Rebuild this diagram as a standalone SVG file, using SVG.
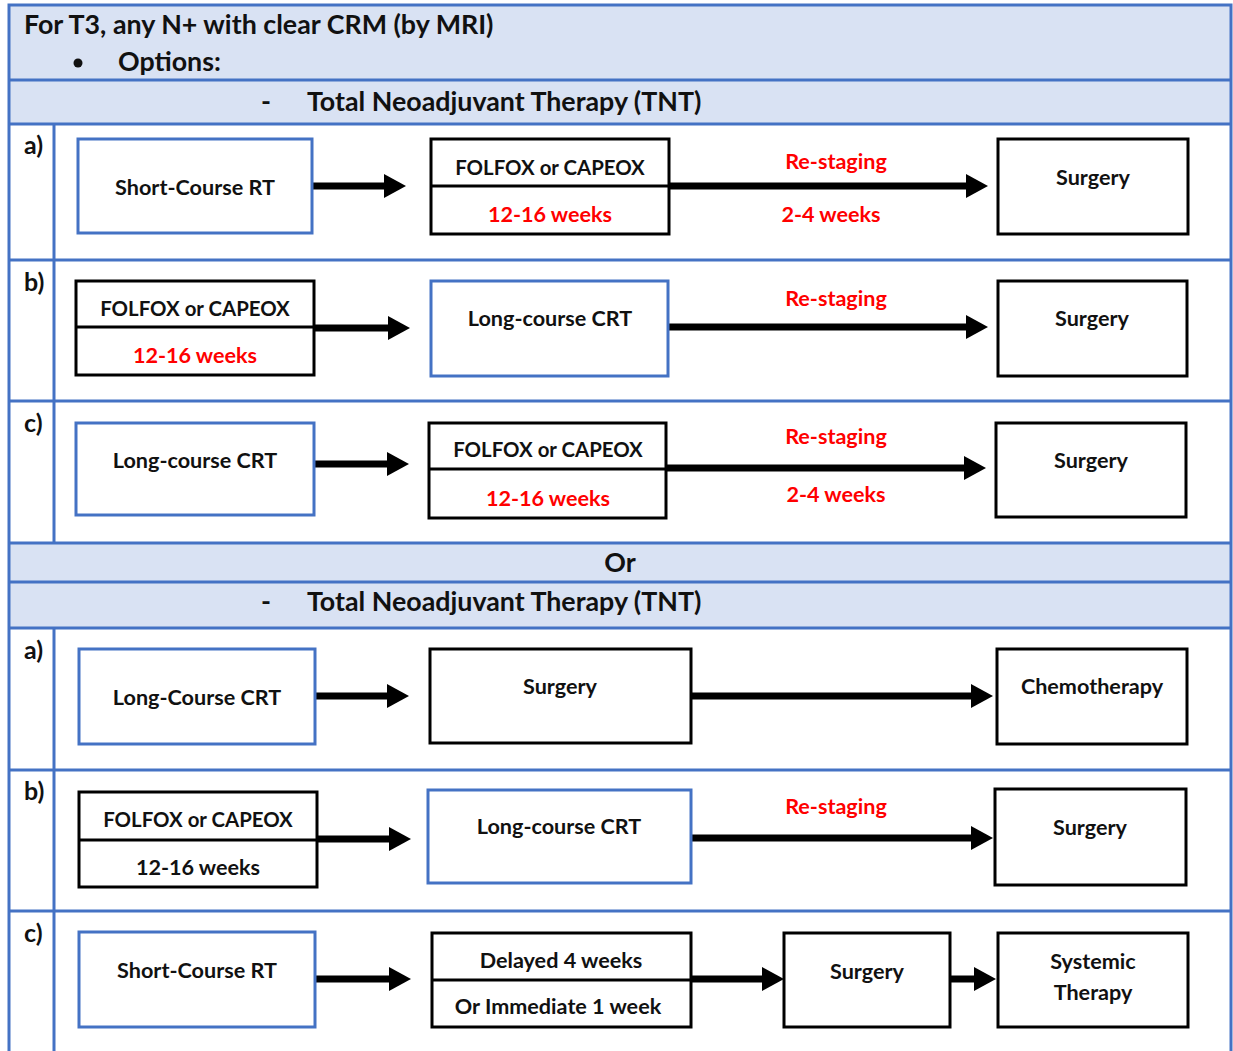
<svg xmlns="http://www.w3.org/2000/svg" width="1233" height="1051" viewBox="0 0 1233 1051">
<defs>
<marker id="ah" viewBox="0 0 22 24" markerWidth="22" markerHeight="24" refX="1" refY="12" orient="auto" markerUnits="userSpaceOnUse"><path d="M0,0 L22,12 L0,24 z" fill="#000"/></marker>
</defs>
<style>
.hdr{fill:#D9E2F3}
.grid{stroke:#4472C4;stroke-width:3;fill:none}
.bb{fill:#fff;stroke:#4472C4;stroke-width:3}
.kb{fill:#fff;stroke:#000;stroke-width:3}
.dv{stroke:#000;stroke-width:3}
.t{font-family:Lato,"Liberation Sans",sans-serif;font-weight:700;font-size:21.6px;fill:#111;text-anchor:middle;dominant-baseline:central}
.f{font-size:20.4px}
.r{fill:#FF0000}
.h{font-family:Lato,"Liberation Sans",sans-serif;font-weight:700;font-size:26.8px;fill:#111}
.lb{font-family:Lato,"Liberation Sans",sans-serif;font-weight:700;font-size:25px;fill:#111}
.ar{stroke:#000;stroke-width:7;marker-end:url(#ah)}
</style>
<rect x="0" y="0" width="1233" height="1051" fill="#fff"/>
<g id="table">
<rect class="hdr" x="9" y="5" width="1222" height="119"/>
<rect class="hdr" x="9" y="543" width="1222" height="85"/>
<rect class="grid" x="9" y="5" width="1222" height="1050"/>
<line class="grid" x1="9" y1="80" x2="1231" y2="80"/>
<line class="grid" x1="9" y1="124" x2="1231" y2="124"/>
<line class="grid" x1="9" y1="260" x2="1231" y2="260"/>
<line class="grid" x1="9" y1="401" x2="1231" y2="401"/>
<line class="grid" x1="9" y1="543" x2="1231" y2="543"/>
<line class="grid" x1="9" y1="582" x2="1231" y2="582"/>
<line class="grid" x1="9" y1="628" x2="1231" y2="628"/>
<line class="grid" x1="9" y1="770" x2="1231" y2="770"/>
<line class="grid" x1="9" y1="911" x2="1231" y2="911"/>
<line class="grid" x1="54" y1="124" x2="54" y2="543"/>
<line class="grid" x1="54" y1="628" x2="54" y2="1055"/>
<text class="h" x="24" y="34">For T3, any N+ with clear CRM (by MRI)</text>
<circle cx="78" cy="63" r="4.5" fill="#111"/>
<text class="h" x="118" y="71">Options:</text>
<text class="h" x="261" y="111">-</text>
<text class="h" x="307" y="111">Total Neoadjuvant Therapy (TNT)</text>
<text class="h" x="620" y="572" text-anchor="middle">Or</text>
<text class="h" x="261" y="611">-</text>
<text class="h" x="307" y="611">Total Neoadjuvant Therapy (TNT)</text>
<text class="lb" x="24" y="154">a)</text>
<text class="lb" x="24" y="291">b)</text>
<text class="lb" x="24" y="432">c)</text>
<text class="lb" x="24" y="659">a)</text>
<text class="lb" x="24" y="800">b)</text>
<text class="lb" x="24" y="942">c)</text>
</g>
<g id="connectors">
<line class="ar" x1="312" y1="186" x2="385" y2="186"/>
<line class="ar" x1="669" y1="186" x2="967" y2="186"/>
<line class="ar" x1="314" y1="328" x2="389" y2="328"/>
<line class="ar" x1="668" y1="327" x2="967" y2="327"/>
<line class="ar" x1="314" y1="464" x2="388" y2="464"/>
<line class="ar" x1="666" y1="468" x2="965" y2="468"/>
<line class="ar" x1="315" y1="696" x2="388" y2="696"/>
<line class="ar" x1="691" y1="696" x2="972" y2="696"/>
<line class="ar" x1="317" y1="839" x2="390" y2="839"/>
<line class="ar" x1="691" y1="838" x2="972" y2="838"/>
<line class="ar" x1="315" y1="979" x2="390" y2="979"/>
<line class="ar" x1="691" y1="979" x2="763" y2="979"/>
<line class="ar" x1="950" y1="979" x2="975" y2="979"/>
<text class="t r" x="836" y="161">Re-staging</text>
<text class="t r" x="831" y="214">2-4 weeks</text>
<text class="t r" x="836" y="298">Re-staging</text>
<text class="t r" x="836" y="436">Re-staging</text>
<text class="t r" x="836" y="494">2-4 weeks</text>
<text class="t r" x="836" y="806">Re-staging</text>
</g>
<g id="n-a1-scrt"><rect class="bb" x="78" y="139" width="234" height="94"/><text class="t" x="195" y="187">Short-Course RT</text></g>
<g id="n-a1-folfox"><rect class="kb" x="431" y="139" width="238" height="95"/><line class="dv" x1="431" y1="186" x2="669" y2="186"/><text class="t f" x="550" y="167">FOLFOX or CAPEOX</text><text class="t r" x="550" y="214">12-16 weeks</text></g>
<g id="n-a1-surgery"><rect class="kb" x="998" y="139" width="190" height="95"/><text class="t" x="1093" y="177">Surgery</text></g>
<g id="n-b1-folfox"><rect class="kb" x="76" y="281" width="238" height="94"/><line class="dv" x1="76" y1="327" x2="314" y2="327"/><text class="t f" x="195" y="308">FOLFOX or CAPEOX</text><text class="t r" x="195" y="355">12-16 weeks</text></g>
<g id="n-b1-lccrt"><rect class="bb" x="431" y="281" width="237" height="95"/><text class="t" x="550" y="318">Long-course CRT</text></g>
<g id="n-b1-surgery"><rect class="kb" x="998" y="281" width="189" height="95"/><text class="t" x="1092" y="318">Surgery</text></g>
<g id="n-c1-lccrt"><rect class="bb" x="76" y="423" width="238" height="92"/><text class="t" x="195" y="460">Long-course CRT</text></g>
<g id="n-c1-folfox"><rect class="kb" x="429" y="423" width="237" height="95"/><line class="dv" x1="429" y1="469" x2="666" y2="469"/><text class="t f" x="548" y="449">FOLFOX or CAPEOX</text><text class="t r" x="548" y="498">12-16 weeks</text></g>
<g id="n-c1-surgery"><rect class="kb" x="996" y="423" width="190" height="94"/><text class="t" x="1091" y="460">Surgery</text></g>
<g id="n-a2-lccrt"><rect class="bb" x="79" y="649" width="236" height="95"/><text class="t" x="197" y="697">Long-Course CRT</text></g>
<g id="n-a2-surgery"><rect class="kb" x="430" y="649" width="261" height="94"/><text class="t" x="560" y="686">Surgery</text></g>
<g id="n-a2-chemo"><rect class="kb" x="997" y="649" width="190" height="95"/><text class="t" x="1092" y="686">Chemotherapy</text></g>
<g id="n-b2-folfox"><rect class="kb" x="79" y="792" width="238" height="95"/><line class="dv" x1="79" y1="840" x2="317" y2="840"/><text class="t f" x="198" y="819">FOLFOX or CAPEOX</text><text class="t" x="198" y="867">12-16 weeks</text></g>
<g id="n-b2-lccrt"><rect class="bb" x="428" y="790" width="263" height="93"/><text class="t" x="559" y="826">Long-course CRT</text></g>
<g id="n-b2-surgery"><rect class="kb" x="995" y="789" width="191" height="96"/><text class="t" x="1090" y="827">Surgery</text></g>
<g id="n-c2-scrt"><rect class="bb" x="79" y="932" width="236" height="95"/><text class="t" x="197" y="970">Short-Course RT</text></g>
<g id="n-c2-delay"><rect class="kb" x="432" y="933" width="259" height="94"/><line class="dv" x1="432" y1="980" x2="691" y2="980"/><text class="t" x="561" y="960">Delayed 4 weeks</text><text class="t" x="558" y="1006">Or Immediate 1 week</text></g>
<g id="n-c2-surgery"><rect class="kb" x="784" y="933" width="166" height="94"/><text class="t" x="867" y="971">Surgery</text></g>
<g id="n-c2-systemic"><rect class="kb" x="998" y="933" width="190" height="94"/><text class="t" x="1093" y="961">Systemic</text><text class="t" x="1093" y="992">Therapy</text></g>
</svg>
